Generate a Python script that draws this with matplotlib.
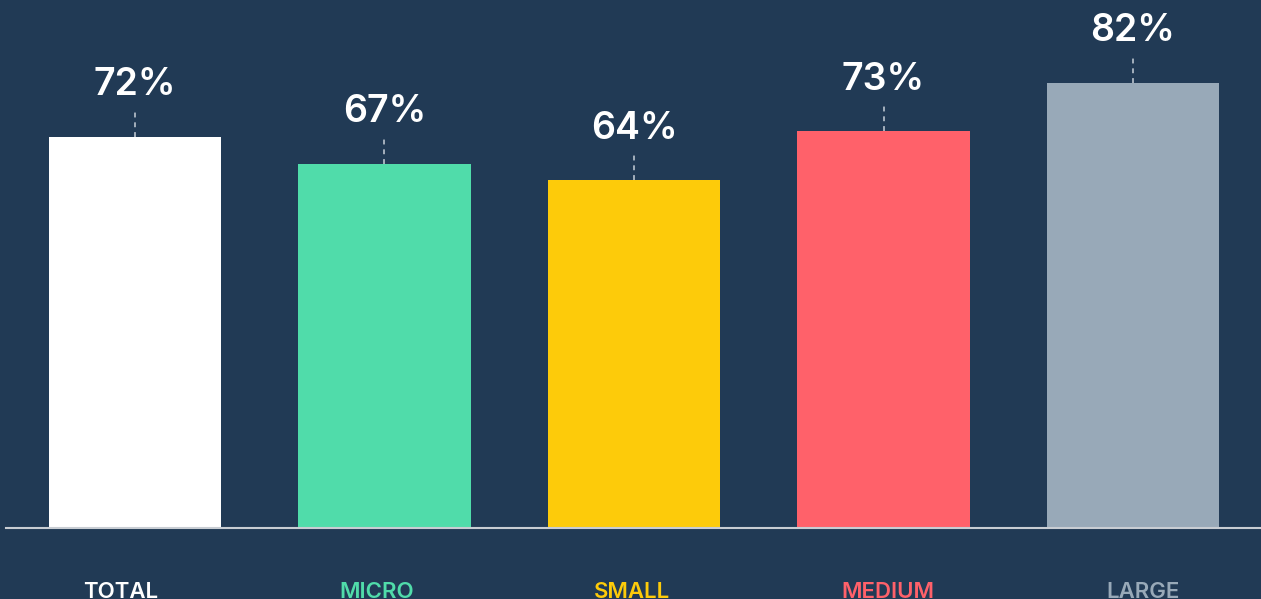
import numpy as np
import matplotlib.pyplot as plt
from matplotlib.transforms import blended_transform_factory

plt.rcParams['font.family'] = ['Inter', 'DejaVu Sans']

# share of respondents by company size
categories = ['TOTAL', 'MICRO', 'SMALL', 'MEDIUM', 'LARGE']
values = [72, 67, 64, 73, 82]
bar_colours = ['#ffffff', '#50dcaa', '#fdcb0a', '#ff616a', '#98a9b8']

background = '#213a55'

fig = plt.figure(figsize=(12.61, 5.99), dpi=100, facecolor=background)
ax = fig.add_axes([6 / 1261, 71 / 599, 1255 / 1261, 528 / 599])
ax.set_facecolor(background)

x = np.arange(len(categories))
ax.bar(x, values, width=0.69, color=bar_colours, zorder=2)

ax.set_xlim(-0.517, 4.513)
ax.set_ylim(0, 97.2)

# dashed leader from each bar up towards its value label
for xi, v in zip(x, values):
    ax.plot([xi, xi], [v, v + 5.1], color='#c8cfd8', lw=1.1,
            dashes=(3.2, 3.2), zorder=3)
    ax.annotate(f'{v}%', (xi, v), xytext=(0, 30), textcoords='offset points',
                ha='center', va='baseline', color='white', fontsize=27,
                fontweight='semibold')

# category labels sit on their own slightly wider spacing
label_x = -0.056 + 1.024 * x
trans = blended_transform_factory(ax.transData, ax.transAxes)
for lx, name, c in zip(label_x, categories, bar_colours):
    ax.text(lx, -0.1326, name, transform=trans, ha='center', va='baseline',
            color=c, fontsize=16, fontweight='semibold', clip_on=False)

for side in ['top', 'right', 'left']:
    ax.spines[side].set_visible(False)
ax.spines['bottom'].set_color('#c8cdd3')
ax.spines['bottom'].set_linewidth(1.5)
ax.spines['bottom'].set_zorder(4)
ax.set_xticks([])
ax.set_yticks([])

fig.savefig('out.png', dpi=100, facecolor=background)
